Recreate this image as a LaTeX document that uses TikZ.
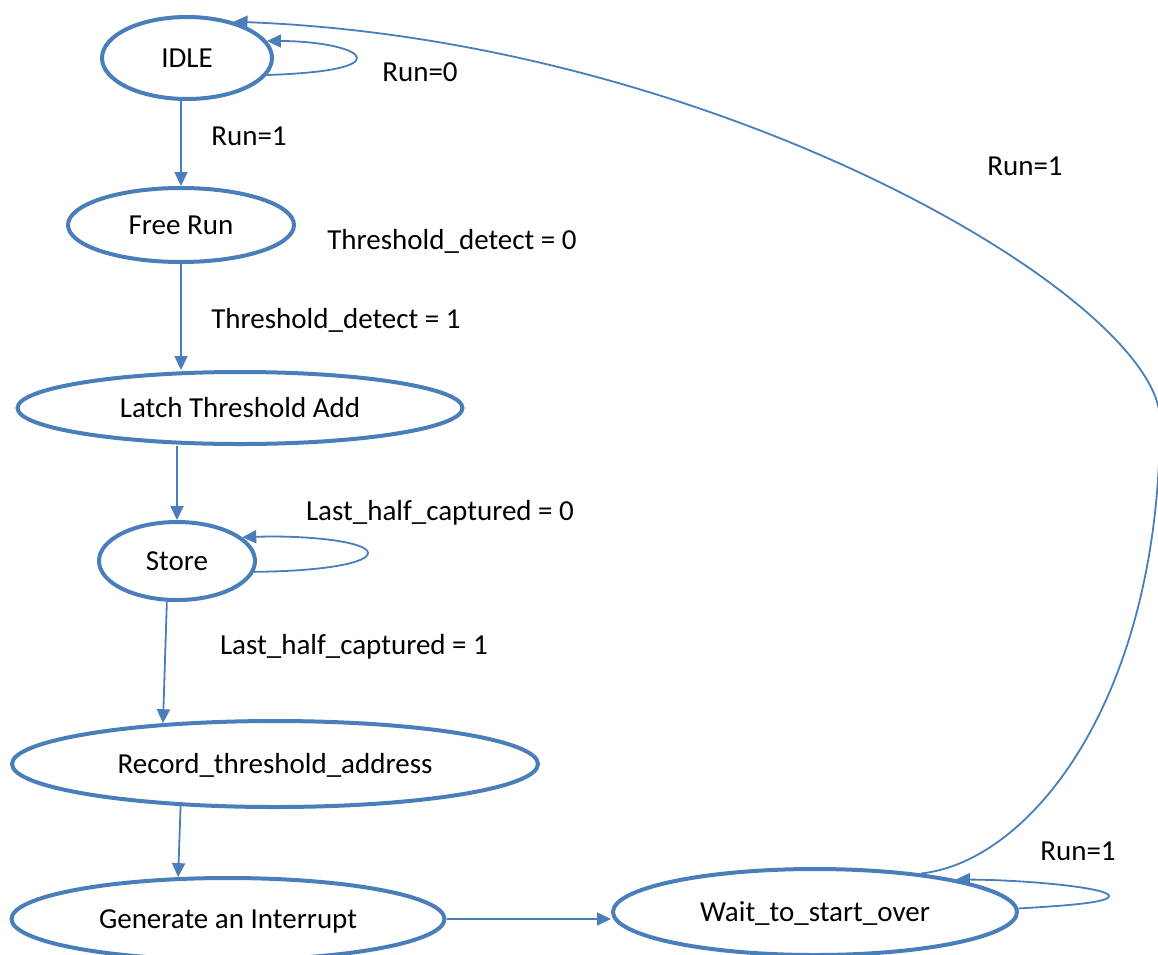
\documentclass[tikz,border=0pt]{standalone}
\usepackage{fontspec}
\setmainfont{Carlito}
\usetikzlibrary{shapes.geometric,arrows.meta}
\definecolor{stateblue}{HTML}{4A7EBB}
\begin{document}
\begin{tikzpicture}[x=1pt,y=-1pt,
  font=\fontsize{29}{34}\selectfont,
  state/.style={ellipse,draw=stateblue,line width=4pt,inner sep=0pt,
    text height=18.6pt,text depth=0pt,fill=white},
  lbl/.style={inner sep=0pt,text height=18.6pt,text depth=0pt},
  arr/.style={draw=stateblue,line width=1.8pt,
    -{Triangle[length=14pt,width=13pt]}}]
\clip (0,0) rectangle (1158,954);

% states
\node[state,minimum width=170pt,minimum height=82pt] (idle) at (187,58) {IDLE};
\node[state,minimum width=226pt,minimum height=74pt] (free) at (181,225) {Free Run};
\node[state,minimum width=445pt,minimum height=72pt] (latch) at (240,408) {Latch Threshold Add};
\node[state,minimum width=156pt,minimum height=78pt] (store) at (177,561) {Store};
\node[state,minimum width=526pt,minimum height=86pt] (record) at (275,764) {Record\_threshold\_address};
\node[state,minimum width=433pt,minimum height=82pt] (gen) at (228,919) {Generate an Interrupt};
\node[state,minimum width=404pt,minimum height=86pt] (wait) at (815,912) {Wait\_to\_start\_over};

% transitions down the chain
\draw[arr] (idle.south -| free.north) -- (free.north);
\draw[arr] (free.south) -- (free.south |- latch.north);
\draw[arr] (latch.south -| store.north) -- (store.north);
\draw[arr] (store.-104) -- (record.160);
\draw[arr] (record.-156) -- (gen.140);
\draw[arr] (gen.east) -- (gen.east -| wait.west);

% self loops
\draw[arr] (idle.-12) .. controls (330,73) and (357,66) .. (357,58)
  .. controls (357,49) and (320,41) .. (idle.12);
\draw[arr] (store.-8) .. controls (330,571) and (368,562) .. (368,553)
  .. controls (368,542) and (310,535) .. (store.20);
\draw[arr] (wait.1) .. controls (1060,906) and (1109,903) .. (1109,896)
  .. controls (1109,888) and (1030,880) .. (wait.13);

% return path to IDLE
\draw[arr] (wait.20) .. controls (1030,862) and (1160,700) .. (1160,420)
  .. controls (1160,300) and (720,40) .. (idle.38);

% transition labels
\node[lbl] (l-run0) at (420,72) {Run=0};
\node[lbl] (l-run1) at (249,136) {Run=1};
\node[lbl] (l-td0) at (452,240) {Threshold\_detect = 0};
\node[lbl] (l-td1) at (336,319) {Threshold\_detect = 1};
\node[lbl] (l-lh0) at (440,511) {Last\_half\_captured = 0};
\node[lbl] (l-lh1) at (354,645) {Last\_half\_captured = 1};
\node[lbl] (l-back) at (1025,166) {Run=1};
\node[lbl] (l-wait) at (1078,851) {Run=1};
\end{tikzpicture}
\end{document}
